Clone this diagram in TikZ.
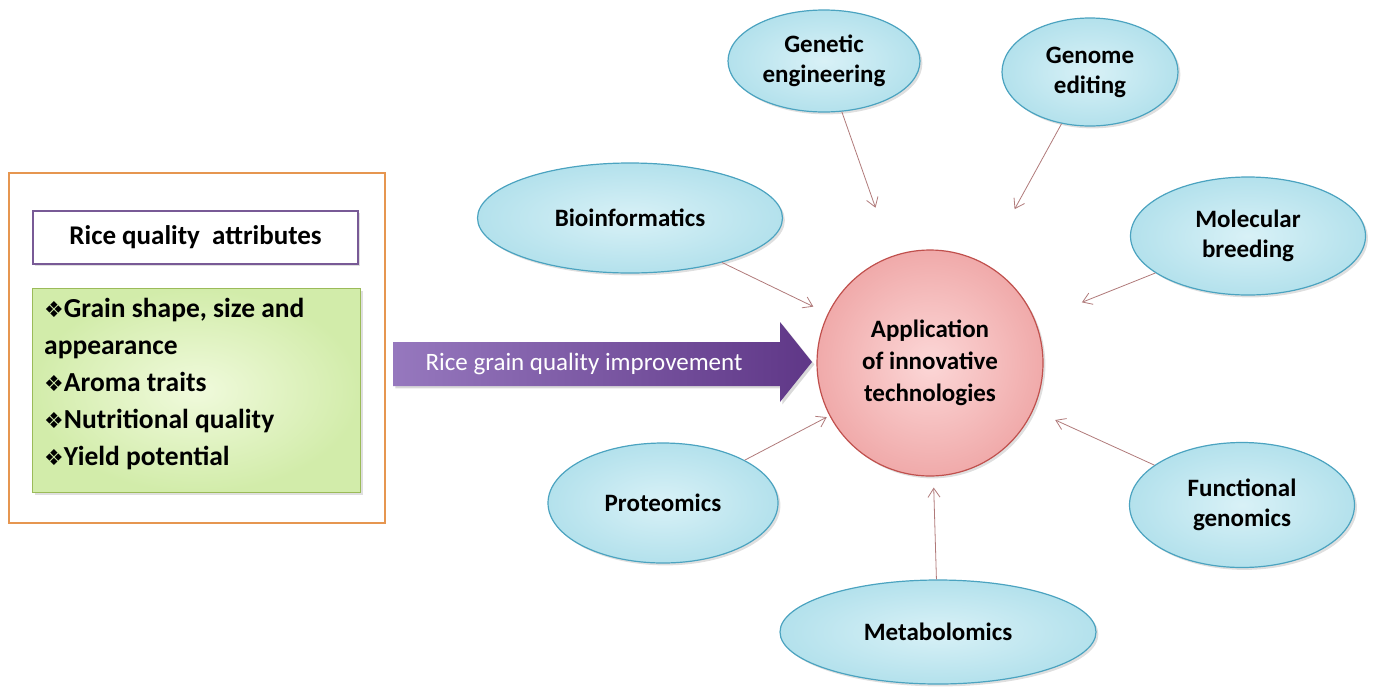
\documentclass[tikz,border=0pt]{standalone}
\usepackage{fontspec}
\setmainfont{Carlito}
\newfontfamily\dej{DejaVu Sans}
\usetikzlibrary{shapes.geometric,arrows.meta,shadows}
\definecolor{elb}{HTML}{4BA3C0}
\definecolor{elf}{HTML}{BFE8F1}
\definecolor{cib}{HTML}{C0504D}
\definecolor{gnb}{HTML}{9BBB59}
\definecolor{conc}{HTML}{B07A7A}
\newcommand{\bl}{{\dej\fontsize{22}{22}\selectfont ❖}}
\begin{document}
\begin{tikzpicture}[x=1pt,y=-1pt,
 ell/.style={ellipse,draw=elb,line width=1.2pt,inner color=white!40!elf,outer color=elf!90!elb,
   font=\fontsize{25}{30}\selectfont\bfseries,align=center,drop shadow={opacity=0.25}},
 conn/.style={draw=conc,line width=0.8pt,-{Straight Barb[length=9pt,width=12pt]}}]
\useasboundingbox (0,0) rectangle (1375,697);
\node[draw={rgb,255:red,230;green,150;blue,80},line width=2pt,minimum width=376,minimum height=350,anchor=north west] (outer) at (8,172) {};
\node[draw={rgb,255:red,120;green,90;blue,150},line width=2pt,fill=white,minimum width=325,minimum height=53,anchor=north west,font=\fontsize{27}{30}\selectfont\bfseries,drop shadow={opacity=0.25}] (title) at (32,210) {Rice quality\ \ attributes};
\node[draw=gnb,line width=0.8pt,inner color={rgb,255:red,240;green,250;blue,220},outer color={rgb,255:red,210;green,236;blue,170},minimum width=328,minimum height=204,anchor=north west,drop shadow={opacity=0.25}] (green) at (32,288) {};
\node[anchor=north west,align=left,font=\fontsize{27.5}{37}\selectfont\bfseries,inner sep=0pt] (list) at (44,298) {\bl Grain shape, size and\\appearance\\\bl Aroma traits\\\bl Nutritional quality\\\bl Yield potential};
\shade[left color={rgb,255:red,150;green,120;blue,190},right color={rgb,255:red,95;green,55;blue,135},drop shadow={opacity=0.3}]
 (393,342) -- (780,342) -- (780,322) -- (812,362) -- (780,402) -- (780,386) -- (393,386) -- cycle;
\node[text=white,font=\fontsize{25}{28}\selectfont] (arrtxt) at (584,364) {Rice grain quality improvement};
\node[circle,draw=cib,line width=1.2pt,inner color={rgb,255:red,252;green,215;blue,215},outer color={rgb,255:red,240;green,170;blue,170},minimum size=226,drop shadow={opacity=0.25}] (c) at (930,363) {};
\node[align=center,font=\fontsize{25}{32}\selectfont\bfseries] (ctxt) at (c) {Application\\of innovative\\technologies};
\node[ell,minimum width=192,minimum height=102] (gen) at (824,61) {Genetic\\engineering};
\node[ell,minimum width=176,minimum height=108] (gno) at (1090,72) {Genome\\editing};
\node[ell,minimum width=305,minimum height=110] (bio) at (630,218) {Bioinformatics};
\node[ell,minimum width=235,minimum height=118] (mol) at (1248,236) {Molecular\\breeding};
\node[ell,minimum width=230,minimum height=120] (pro) at (663,503) {Proteomics};
\node[ell,minimum width=225,minimum height=125] (fun) at (1242,505) {Functional\\genomics};
\node[ell,minimum width=316,minimum height=104] (met) at (938,632) {Metabolomics};
\draw[conn,shorten >=51] (gen) -- (c);
\draw[conn,shorten >=62] (gno) -- (c);
\draw[conn,shorten >=16] (bio) -- (c);
\draw[conn,shorten >=50] (mol) -- (c);
\draw[conn,shorten >=3] (pro) -- (c);
\draw[conn,shorten >=24] (fun) -- (c);
\draw[conn,shorten >=11] (met) -- (c);
\end{tikzpicture}
\end{document}
